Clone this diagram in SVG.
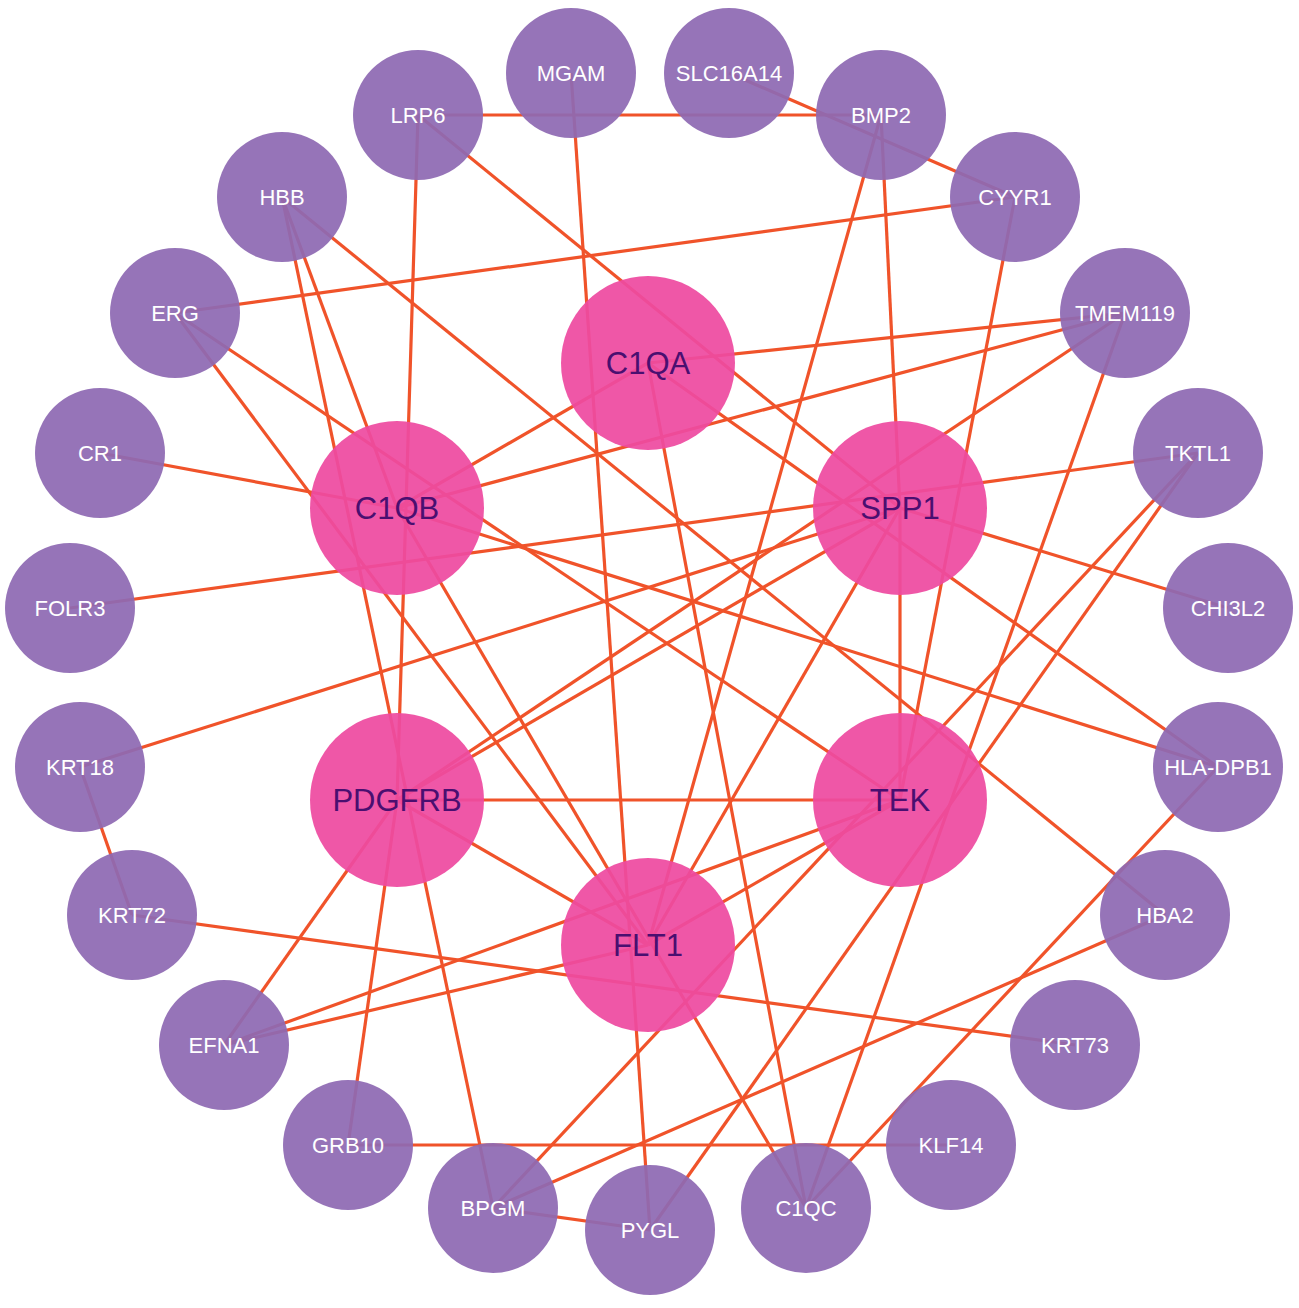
<svg xmlns="http://www.w3.org/2000/svg" width="1299" height="1308" viewBox="0 0 1299 1308">
<style>
.e{stroke:#F0532A;stroke-width:3.2;fill:none}
.o circle{fill:#8E69B3;fill-opacity:0.93}
.i circle{fill:#EE4AA0;fill-opacity:0.93}
.o text{fill:#fff;font-family:"Liberation Sans",Arial,sans-serif;font-size:22px;text-anchor:middle;dominant-baseline:central}
.i text{fill:#4A0F70;font-family:"Liberation Sans",Arial,sans-serif;font-size:31px;text-anchor:middle;dominant-baseline:central}
</style>
<rect width="1299" height="1308" fill="#fff"/>
<g id="edges" class="e">
<line x1="418" y1="115" x2="881" y2="115"/>
<line x1="729" y1="73" x2="1015" y2="197"/>
<line x1="418" y1="115" x2="900" y2="508"/>
<line x1="418" y1="115" x2="397" y2="800"/>
<line x1="571" y1="73" x2="650" y2="1230"/>
<line x1="881" y1="115" x2="900" y2="508"/>
<line x1="881" y1="115" x2="648" y2="945"/>
<line x1="1015" y1="197" x2="175" y2="313"/>
<line x1="1015" y1="197" x2="900" y2="800"/>
<line x1="1125" y1="313" x2="648" y2="363"/>
<line x1="1125" y1="313" x2="397" y2="508"/>
<line x1="1125" y1="313" x2="397" y2="800"/>
<line x1="1125" y1="313" x2="806" y2="1208"/>
<line x1="1198" y1="453" x2="70" y2="608"/>
<line x1="1198" y1="453" x2="493" y2="1208"/>
<line x1="1198" y1="453" x2="650" y2="1230"/>
<line x1="1228" y1="608" x2="900" y2="508"/>
<line x1="100" y1="453" x2="397" y2="508"/>
<line x1="175" y1="313" x2="900" y2="800"/>
<line x1="175" y1="313" x2="648" y2="945"/>
<line x1="282" y1="197" x2="1165" y2="915"/>
<line x1="282" y1="197" x2="493" y2="1208"/>
<line x1="282" y1="197" x2="397" y2="508"/>
<line x1="648" y1="363" x2="1218" y2="767"/>
<line x1="397" y1="508" x2="1218" y2="767"/>
<line x1="1218" y1="767" x2="806" y2="1208"/>
<line x1="1165" y1="915" x2="493" y2="1208"/>
<line x1="80" y1="767" x2="900" y2="508"/>
<line x1="80" y1="767" x2="132" y2="915"/>
<line x1="132" y1="915" x2="1075" y2="1045"/>
<line x1="348" y1="1145" x2="951" y2="1145"/>
<line x1="493" y1="1208" x2="650" y2="1230"/>
<line x1="224" y1="1045" x2="900" y2="800"/>
<line x1="224" y1="1045" x2="648" y2="945"/>
<line x1="224" y1="1045" x2="397" y2="800"/>
<line x1="348" y1="1145" x2="397" y2="800"/>
<line x1="397" y1="800" x2="900" y2="800"/>
<line x1="397" y1="800" x2="648" y2="945"/>
<line x1="397" y1="800" x2="900" y2="508"/>
<line x1="900" y1="508" x2="900" y2="800"/>
<line x1="900" y1="508" x2="648" y2="945"/>
<line x1="900" y1="800" x2="648" y2="945"/>
<line x1="648" y1="363" x2="397" y2="508"/>
<line x1="648" y1="363" x2="806" y2="1208"/>
<line x1="397" y1="508" x2="806" y2="1208"/>
</g>
<g id="n-C1QA" class="i"><circle cx="648" cy="363" r="87"/><text x="648" y="363">C1QA</text></g>
<g id="n-C1QB" class="i"><circle cx="397" cy="508" r="87"/><text x="397" y="508">C1QB</text></g>
<g id="n-SPP1" class="i"><circle cx="900" cy="508" r="87"/><text x="900" y="508">SPP1</text></g>
<g id="n-PDGFRB" class="i"><circle cx="397" cy="800" r="87"/><text x="397" y="800">PDGFRB</text></g>
<g id="n-TEK" class="i"><circle cx="900" cy="800" r="87"/><text x="900" y="800">TEK</text></g>
<g id="n-FLT1" class="i"><circle cx="648" cy="945" r="87"/><text x="648" y="945">FLT1</text></g>
<g id="n-MGAM" class="o"><circle cx="571" cy="73" r="65"/><text x="571" y="73">MGAM</text></g>
<g id="n-SLC16A14" class="o"><circle cx="729" cy="73" r="65"/><text x="729" y="73">SLC16A14</text></g>
<g id="n-LRP6" class="o"><circle cx="418" cy="115" r="65"/><text x="418" y="115">LRP6</text></g>
<g id="n-BMP2" class="o"><circle cx="881" cy="115" r="65"/><text x="881" y="115">BMP2</text></g>
<g id="n-HBB" class="o"><circle cx="282" cy="197" r="65"/><text x="282" y="197">HBB</text></g>
<g id="n-CYYR1" class="o"><circle cx="1015" cy="197" r="65"/><text x="1015" y="197">CYYR1</text></g>
<g id="n-ERG" class="o"><circle cx="175" cy="313" r="65"/><text x="175" y="313">ERG</text></g>
<g id="n-TMEM119" class="o"><circle cx="1125" cy="313" r="65"/><text x="1125" y="313">TMEM119</text></g>
<g id="n-CR1" class="o"><circle cx="100" cy="453" r="65"/><text x="100" y="453">CR1</text></g>
<g id="n-TKTL1" class="o"><circle cx="1198" cy="453" r="65"/><text x="1198" y="453">TKTL1</text></g>
<g id="n-FOLR3" class="o"><circle cx="70" cy="608" r="65"/><text x="70" y="608">FOLR3</text></g>
<g id="n-CHI3L2" class="o"><circle cx="1228" cy="608" r="65"/><text x="1228" y="608">CHI3L2</text></g>
<g id="n-KRT18" class="o"><circle cx="80" cy="767" r="65"/><text x="80" y="767">KRT18</text></g>
<g id="n-HLA-DPB1" class="o"><circle cx="1218" cy="767" r="65"/><text x="1218" y="767">HLA-DPB1</text></g>
<g id="n-KRT72" class="o"><circle cx="132" cy="915" r="65"/><text x="132" y="915">KRT72</text></g>
<g id="n-HBA2" class="o"><circle cx="1165" cy="915" r="65"/><text x="1165" y="915">HBA2</text></g>
<g id="n-EFNA1" class="o"><circle cx="224" cy="1045" r="65"/><text x="224" y="1045">EFNA1</text></g>
<g id="n-KRT73" class="o"><circle cx="1075" cy="1045" r="65"/><text x="1075" y="1045">KRT73</text></g>
<g id="n-GRB10" class="o"><circle cx="348" cy="1145" r="65"/><text x="348" y="1145">GRB10</text></g>
<g id="n-KLF14" class="o"><circle cx="951" cy="1145" r="65"/><text x="951" y="1145">KLF14</text></g>
<g id="n-BPGM" class="o"><circle cx="493" cy="1208" r="65"/><text x="493" y="1208">BPGM</text></g>
<g id="n-C1QC" class="o"><circle cx="806" cy="1208" r="65"/><text x="806" y="1208">C1QC</text></g>
<g id="n-PYGL" class="o"><circle cx="650" cy="1230" r="65"/><text x="650" y="1230">PYGL</text></g>
</svg>
